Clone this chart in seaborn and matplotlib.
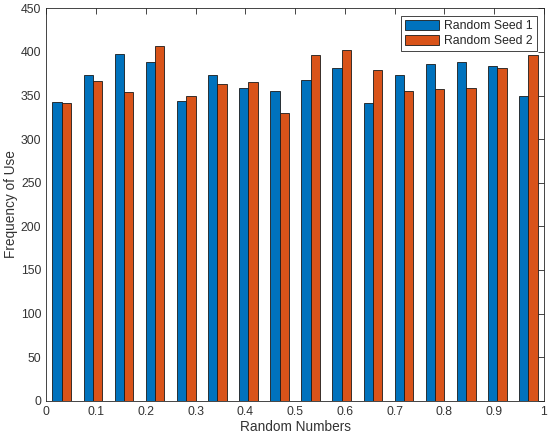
import pandas as pd
import matplotlib
matplotlib.use('Agg')
import matplotlib.pyplot as plt
import seaborn as sns
import numpy as np

# 16 bins over [0,1], counts
bin_centers = [(i + 0.5) / 16 for i in range(16)]
seed1 = [343, 374, 398, 388, 344, 374, 359, 355, 368, 382, 341, 373, 386, 388, 384, 349]
seed2 = [341, 367, 354, 407, 350, 363, 366, 330, 397, 402, 379, 355, 358, 359, 381, 396]
series_names = ['Random Seed 1', 'Random Seed 2']
colors = ['#0072BD', '#D95319']

df = pd.DataFrame({
    'x': bin_centers * 2,
    'count': seed1 + seed2,
    'seed': [series_names[0]] * 16 + [series_names[1]] * 16,
})

sns.set_style('white')
plt.rcParams['font.family'] = ['Liberation Sans', 'DejaVu Sans']
axcol = '#262626'

fig = plt.figure(figsize=(5.5, 4.38), dpi=100)
ax = fig.add_axes([0.084, 0.085, 0.905, 0.896])

sns.barplot(data=df, x='x', y='count', hue='seed', native_scale=True,
            width=0.6, palette=colors, edgecolor='#1a1a1a', linewidth=0.6,
            saturation=1, ax=ax)

ax.set_xlim(0, 1)
ax.set_ylim(0, 450)
ax.set_xticks(np.arange(0, 1.01, 0.1))
ax.set_xticklabels(['0', '0.1', '0.2', '0.3', '0.4', '0.5', '0.6', '0.7', '0.8', '0.9', '1'])
ax.set_yticks(np.arange(0, 451, 50))
ax.tick_params(direction='in', length=4, width=0.6, colors=axcol, labelsize=8.8,
               top=True, right=True, labelcolor='#333333')
for s in ax.spines.values():
    s.set_color(axcol)
    s.set_linewidth(0.6)

ax.set_xlabel('Random Numbers', fontsize=9.8, color='#333333', labelpad=2)
ax.set_ylabel('Frequency of Use', fontsize=9.8, color='#333333', labelpad=2)

leg = ax.legend(loc='upper right', fontsize=8.8, fancybox=False, framealpha=1,
                edgecolor=axcol, handlelength=2.8, handleheight=0.9,
                handletextpad=0.35, borderaxespad=0.6, labelspacing=0.2,
                borderpad=0.35)
leg.get_frame().set_linewidth(0.6)

plt.savefig('out.png', dpi=100)
